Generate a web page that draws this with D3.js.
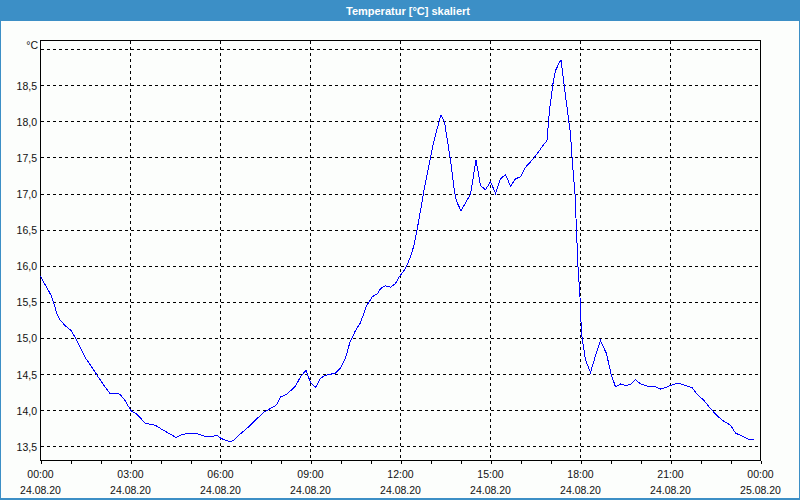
<!DOCTYPE html>
<html>
<head>
<meta charset="utf-8">
<script src="https://cdn.jsdelivr.net/npm/d3@7"></script>
<style>
  html, body { margin: 0; padding: 0; background: #fcfefc; }
  svg { display: block; }
  text { font-family: "Liberation Sans", Arial, sans-serif; }
</style>
</head>
<body>
<svg id="chart" width="800" height="500"></svg>
<script>
// ---- data (minutes since 24.08.20 00:00, temperature in °C) ----
const minutes = [0,21,26,33,39,49,61,69,79,89,103,116,129,139,159,169,181,193,209,219,229,243,256,271,283,299,309,326,343,353,
  360,370,380,388,400,417,430,447,460,472,480,493,510,520,531,540,550,560,570,590,600,610,619,630,640,652,664,674,
  680,690,700,710,717,730,740,747,753,760,767,779,787,801,808,820,828,832,841,860,871,880,890,900,910,920,930,940,950,960,970,987,1009,
  1013,1018,1025,1030,1037,1041,1047,1053,1060,1063,1069,1072,1075,1079,1080,1083,1090,1100,1110,1120,1132,1141,1150,1160,1170,1180,1190,1200,
  1213,1227,1240,1250,1260,1270,1280,1293,1303,1313,1327,1340,1353,1367,1380,1390,1403,1417,1427];
const temps = [15.86,15.60,15.50,15.34,15.26,15.18,15.11,15.02,14.88,14.74,14.60,14.46,14.33,14.24,14.23,14.14,14.00,13.95,13.83,13.81,13.80,13.74,13.69,13.63,13.67,13.69,13.69,13.65,13.64,13.66,
  13.62,13.59,13.57,13.60,13.68,13.78,13.87,13.98,14.03,14.08,14.19,14.23,14.34,14.47,14.56,14.39,14.32,14.45,14.49,14.52,14.59,14.73,14.95,15.11,15.22,15.45,15.58,15.62,
  15.69,15.73,15.71,15.76,15.85,15.97,16.13,16.29,16.50,16.77,17.05,17.47,17.74,18.10,18.00,17.47,17.03,16.90,16.77,17.00,17.47,17.12,17.06,17.17,17.01,17.21,17.27,17.11,17.21,17.24,17.37,17.50,17.71,
  17.74,18.16,18.53,18.71,18.81,18.86,18.53,18.20,17.83,17.51,17.00,16.50,15.99,15.57,15.34,15.02,14.70,14.53,14.76,14.97,14.79,14.51,14.33,14.37,14.35,14.36,14.43,14.37,
  14.34,14.34,14.30,14.32,14.35,14.37,14.37,14.34,14.32,14.23,14.14,14.03,13.93,13.85,13.80,13.69,13.65,13.60,13.60];
const yTicks = [13.5,14.0,14.5,15.0,15.5,16.0,16.5,17.0,17.5,18.0,18.5,19.0];
const xTickHours = [0,3,6,9,12,15,18,21,24];
const title = "Temperatur [°C] skaliert";
const unitLabel = "°C";

// ---- layout ----
const W = 800, H = 500;
const L = 40, R = 760, T = 40, B = 460;
const t0 = Date.UTC(2020, 7, 24, 0, 0);
const t1 = Date.UTC(2020, 7, 25, 0, 0);

const svg = d3.select("#chart");
const x = d3.scaleUtc().domain([new Date(t0), new Date(t1)]).range([L, R]);
const y = d3.scaleLinear().domain([13.31, 19.127]).range([B, T]);
const snap = v => Math.round(v) + 0.5;

// background
svg.append("rect").attr("x", 0).attr("y", 0).attr("width", W).attr("height", H).attr("fill", "#fcfefc");

// title bar
svg.append("rect").attr("x", 0).attr("y", 0).attr("width", W).attr("height", 21).attr("fill", "#3c8fc6");
svg.append("text").attr("x", 408).attr("y", 10.5)
  .attr("text-anchor", "middle").attr("dominant-baseline", "central")
  .attr("fill", "#ffffff").attr("font-weight", "bold").attr("font-size", "11px")
  .text(title);

// outer border
const border = svg.append("g").attr("fill", "#3c8fc6");
border.append("rect").attr("x", 0).attr("y", 21).attr("width", 1).attr("height", H - 21);
border.append("rect").attr("x", W - 1).attr("y", 21).attr("width", 1).attr("height", H - 21);
border.append("rect").attr("x", 0).attr("y", H - 2).attr("width", W).attr("height", 2);

// grid
const grid = svg.append("g").attr("stroke", "#000").attr("stroke-width", 1)
  .attr("stroke-dasharray", "3,3").attr("shape-rendering", "crispEdges");
grid.selectAll("line.h").data(yTicks).enter().append("line")
  .attr("x1", L + 1).attr("x2", R)
  .attr("y1", d => snap(y(d))).attr("y2", d => snap(y(d)));
const xTicks = xTickHours.map(h => new Date(t0 + h * 3600e3));
grid.selectAll("line.v").data(xTicks.slice(1, -1)).enter().append("line")
  .attr("y1", T + 1).attr("y2", B)
  .attr("x1", d => snap(x(d))).attr("x2", d => snap(x(d)));

// axes (frame)
const xAxis = d3.axisBottom(x)
  .ticks(d3.utcHour.every(1))
  .tickSize(3).tickFormat("");
const gx = svg.append("g").attr("transform", `translate(0.5,${B + 0.5})`).call(xAxis);
gx.select(".domain").remove();
gx.selectAll("line").attr("stroke", "#000").attr("shape-rendering", "crispEdges");

svg.append("rect").attr("x", L + 0.5).attr("y", T + 0.5).attr("width", R - L).attr("height", B - T)
  .attr("fill", "none").attr("stroke", "#000").attr("stroke-width", 1).attr("shape-rendering", "crispEdges");

// y labels
const fmtY = d => d3.format(".1f")(d).replace(".", ",");
svg.append("g").selectAll("text").data(yTicks.slice(0, -1)).enter().append("text")
  .attr("x", 37).attr("y", d => y(d) + 0.5)
  .attr("text-anchor", "end").attr("dominant-baseline", "central")
  .attr("font-size", "10.5px").attr("fill", "#111")
  .text(fmtY);
svg.append("text").attr("x", 38).attr("y", 45)
  .attr("text-anchor", "end").attr("dominant-baseline", "central")
  .attr("font-size", "10.5px").attr("fill", "#111").text(unitLabel);

// x labels
const fmtT = d3.utcFormat("%H:%M");
const fmtD = d3.utcFormat("%d.%m.%y");
const xl = svg.append("g").selectAll("g").data(xTicks).enter().append("g");
xl.append("text").attr("x", d => x(d) + 0.5).attr("y", 474)
  .attr("text-anchor", "middle").attr("dominant-baseline", "central")
  .attr("font-size", "10.5px").attr("fill", "#111").text(fmtT);
xl.append("text").attr("x", d => x(d) + 0.5).attr("y", 490)
  .attr("text-anchor", "middle").attr("dominant-baseline", "central")
  .attr("font-size", "10.5px").attr("fill", "#111").text(fmtD);

// data line
const data = minutes.map((m, i) => ({ t: new Date(t0 + m * 60e3), v: temps[i] }));
const line = d3.line().x(d => x(d.t) + 0.5).y(d => y(d.v) + 0.5);
svg.append("path").datum(data).attr("d", line)
  .attr("fill", "none").attr("stroke", "#0000ff").attr("stroke-width", 1)
  .attr("shape-rendering", "crispEdges");
</script>
</body>
</html>
